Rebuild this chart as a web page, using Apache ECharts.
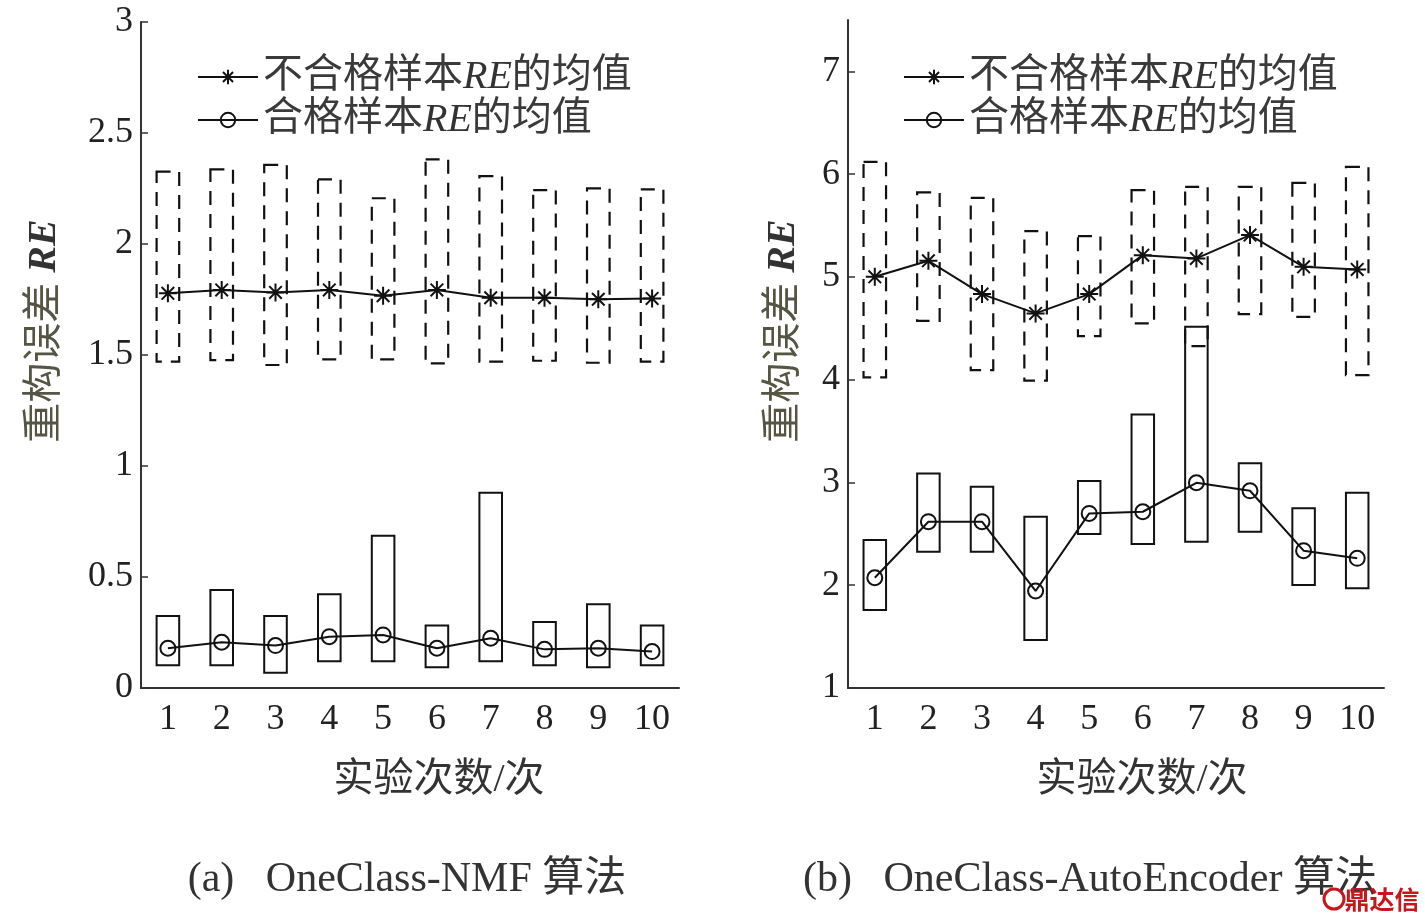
<!DOCTYPE html>
<html><head><meta charset="utf-8">
<script src="https://cdn.jsdelivr.net/npm/echarts@6/dist/echarts.min.js"></script>
<style>html,body{margin:0;padding:0;background:#fff}#c{width:1425px;height:921px}</style>
</head><body><div id="c"></div>
<script>
// ---------- data ----------
const categories = ['1','2','3','4','5','6','7','8','9','10'];
const seriesNames = ['不合格样本RE的均值', '合格样本RE的均值'];
// (a) OneClass-NMF
const nmfBadMean  = [1.778,1.793,1.782,1.793,1.767,1.793,1.758,1.758,1.751,1.755];
const nmfBadLow   = [1.470,1.477,1.455,1.480,1.480,1.462,1.470,1.474,1.465,1.470];
const nmfBadHigh  = [2.326,2.336,2.356,2.291,2.206,2.381,2.306,2.243,2.251,2.246];
const nmfGoodMean = [0.179,0.206,0.191,0.231,0.239,0.179,0.224,0.174,0.179,0.164];
const nmfGoodLow  = [0.102,0.102,0.069,0.120,0.120,0.093,0.120,0.102,0.093,0.102];
const nmfGoodHigh = [0.324,0.441,0.324,0.422,0.686,0.281,0.880,0.297,0.377,0.281];
// (b) OneClass-AutoEncoder
const aeBadMean  = [5.001,5.157,4.833,4.645,4.833,5.212,5.180,5.407,5.098,5.073];
const aeBadLow   = [4.022,4.573,4.093,3.990,4.424,4.548,4.327,4.638,4.612,4.045];
const aeBadHigh  = [6.120,5.822,5.770,5.446,5.397,5.844,5.877,5.877,5.915,6.071];
const aeGoodMean = [2.073,2.618,2.618,1.944,2.699,2.715,2.997,2.919,2.336,2.262];
const aeGoodLow  = [1.759,2.326,2.326,1.467,2.498,2.401,2.423,2.521,2.002,1.970];
const aeGoodHigh = [2.440,3.088,2.958,2.666,3.014,3.662,4.515,3.186,2.748,2.900];
// axis ranges and tick labels
const yAxisA = {min: 0, max: 3, interval: 0.5};
const yTicksA = [0, 0.5, 1, 1.5, 2, 2.5, 3];
const yAxisB = {min: 1, max: 7.5, interval: 1};
const yTicksB = [1, 2, 3, 4, 5, 6, 7];
const xAxisTitle = '实验次数/次';
const yAxisTitle = '重构误差 ';
const captionA = '(a)   OneClass-NMF 算法';
const captionB = '(b)   OneClass-AutoEncoder 算法';

// ---------- chart ----------
const serif = '"Liberation Serif", "Noto Sans CJK SC", serif';
const cjk = '"Liberation Serif", "Noto Sans CJK SC", sans-serif';
const starPath = 'path://M10,0L10,20M0,10L20,10M3,3L17,17M3,17L17,3';

function boxes(low, high) { return categories.map((c, i) => [i, low[i], high[i]]); }
function boxRender(dashed) {
  return function (params, api) {
    const i = api.value(0);
    const lo = api.coord([i, api.value(1)]);
    const hi = api.coord([i, api.value(2)]);
    const w = api.size([1, 0])[0] * 0.42;
    return {
      type: 'rect',
      shape: {x: lo[0] - w / 2, y: hi[1], width: w, height: lo[1] - hi[1]},
      style: {fill: 'none', stroke: '#111', lineWidth: dashed ? 2.2 : 2, lineDash: dashed ? [14, 9] : null}
    };
  };
}
function xAxis(gi) {
  return {
    type: 'category', gridIndex: gi, data: categories, boundaryGap: true,
    axisLine: {lineStyle: {color: '#333', width: 2}},
    axisTick: {inside: true, alignWithLabel: true, length: 8, lineStyle: {color: '#333', width: 1.5}},
    axisLabel: {fontFamily: serif, fontSize: 36, color: '#222', margin: 14},
    splitLine: {show: false}
  };
}
function yAxis(gi, r, ticks) {
  return {
    type: 'value', gridIndex: gi, min: r.min, max: r.max, interval: r.interval,
    axisLine: {show: true, lineStyle: {color: '#333', width: 2}},
    axisTick: {show: true, inside: true, length: 7, customValues: ticks, lineStyle: {color: '#333', width: 1.5}},
    axisLabel: {fontFamily: serif, fontSize: 36, color: '#222', margin: 8, customValues: ticks},
    splitLine: {show: false}
  };
}
function meanLine(name, gi, data, symbol) {
  const isStar = symbol === 'star';
  return {
    name: name, type: 'line', xAxisIndex: gi, yAxisIndex: gi, data: data, z: 5,
    symbol: isStar ? starPath : 'circle', symbolSize: isStar ? 18 : 15,
    showAllSymbol: true,
    lineStyle: {color: '#111', width: 2},
    itemStyle: {color: 'rgba(0,0,0,0)', borderColor: '#111', borderWidth: 2},
    emphasis: {disabled: true}, animation: false
  };
}
function boxSeries(gi, low, high, dashed) {
  return {
    type: 'custom', xAxisIndex: gi, yAxisIndex: gi, data: boxes(low, high),
    renderItem: boxRender(dashed), encode: {x: 0, y: [1, 2]}, animation: false, silent: true
  };
}
function legend(left) {
  return {
    left: left, top: 52, orient: 'vertical', itemWidth: 60, itemHeight: 18, itemGap: 3,
    data: seriesNames, selectedMode: false,
    formatter: n => n.replace('RE', '{it|RE}'),
    textStyle: {fontFamily: cjk, fontSize: 40, color: '#3a3a3a',
      rich: {it: {fontFamily: serif, fontStyle: 'italic', fontSize: 40, color: '#333'}}}
  };
}
function text(x, y, t, font, fill) {
  return {
    type: 'text', x: x, y: y, z: 10,
    style: {text: t, font: font, fill: fill || '#333', align: 'center', verticalAlign: 'middle'}
  };
}
function yTitle(x, y) {
  return {
    type: 'text', x: x, y: y, rotation: Math.PI / 2,
    style: {text: yAxisTitle + '{it|RE}', font: '40px ' + cjk, fill: '#554', align: 'center', verticalAlign: 'middle',
      rich: {it: {fontFamily: serif, fontStyle: 'italic', fontWeight: 'bold', fontSize: 40, fill: '#333'}}}
  };
}

const chart = echarts.init(document.getElementById('c'));
chart.setOption({
  backgroundColor: '#fff',
  animation: false,
  grid: [
    {left: 141, top: 22, width: 538, height: 666},
    {left: 848, top: 20, width: 536, height: 668}
  ],
  xAxis: [xAxis(0), xAxis(1)],
  yAxis: [yAxis(0, yAxisA, yTicksA), yAxis(1, yAxisB, yTicksB)],
  legend: [legend(192), legend(898)],
  series: [
    boxSeries(0, nmfBadLow, nmfBadHigh, true),
    boxSeries(0, nmfGoodLow, nmfGoodHigh, false),
    meanLine(seriesNames[0], 0, nmfBadMean, 'star'),
    meanLine(seriesNames[1], 0, nmfGoodMean, 'circle'),
    boxSeries(1, aeBadLow, aeBadHigh, true),
    boxSeries(1, aeGoodLow, aeGoodHigh, false),
    meanLine(seriesNames[0], 1, aeBadMean, 'star'),
    meanLine(seriesNames[1], 1, aeGoodMean, 'circle')
  ],
  graphic: [
    yTitle(45, 331),
    yTitle(784, 331),
    text(439, 780, xAxisTitle, '40px ' + cjk),
    text(1142, 780, xAxisTitle, '40px ' + cjk),
    text(407, 880, captionA, '42px ' + serif),
    text(1090, 880, captionB, '42px ' + serif),
    {type: 'circle', z: 11, shape: {cx: 1334, cy: 899, r: 10}, style: {fill: '#fff', stroke: '#c8161d', lineWidth: 3}},
    text(1382, 899, '鼎达信', 'bold 25px "Noto Sans CJK SC", sans-serif', '#c8161d')
  ]
});
</script></body></html>
